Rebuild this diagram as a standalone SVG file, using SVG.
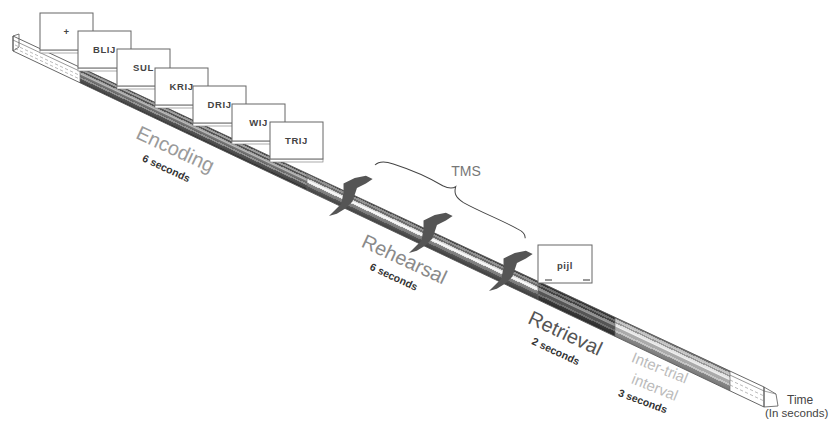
<svg xmlns="http://www.w3.org/2000/svg" width="833" height="423" viewBox="0 0 833 423">
<style>
.card{fill:#fff;stroke:#666;stroke-width:1}
.base{fill:#fff;stroke:#888;stroke-width:0.7}
.ct{font-family:"Liberation Sans",Arial,sans-serif;font-size:9.5px;font-weight:bold;fill:#444;text-anchor:middle;letter-spacing:0.6px}
.big{font-family:"Liberation Sans",Arial,sans-serif;font-size:20px;text-anchor:middle}
.sec{font-family:"Liberation Sans",Arial,sans-serif;font-size:10.5px;font-weight:bold;fill:#333;text-anchor:middle}
.iti{font-family:"Liberation Sans",Arial,sans-serif;font-size:15px;fill:#bbb;text-anchor:middle}
.lbl{font-family:"Liberation Sans",Arial,sans-serif;fill:#444}
.edge{fill:none;stroke:#555;stroke-width:0.8}
.thin{fill:none;stroke:#666;stroke-width:0.6}
.dash{fill:none;stroke:#999;stroke-width:0.6;stroke-dasharray:3 2}
.flag{fill:#555}
</style>
<defs>
<linearGradient id="gEnc" x1="0" y1="0" x2="0" y2="1">
<stop offset="0" stop-color="#444"/><stop offset=".07" stop-color="#444"/>
<stop offset=".07" stop-color="#888"/><stop offset=".18" stop-color="#aaa"/>
<stop offset=".22" stop-color="#555"/><stop offset=".3" stop-color="#555"/>
<stop offset=".3" stop-color="#999"/><stop offset=".42" stop-color="#bbb"/>
<stop offset=".48" stop-color="#777"/><stop offset=".6" stop-color="#666"/>
<stop offset=".6" stop-color="#999"/><stop offset=".7" stop-color="#888"/>
<stop offset=".7" stop-color="#555"/><stop offset=".9" stop-color="#444"/>
<stop offset=".9" stop-color="#333"/><stop offset="1" stop-color="#333"/>
</linearGradient>
<linearGradient id="gReh" x1="0" y1="0" x2="0" y2="1">
<stop offset="0" stop-color="#444"/><stop offset=".08" stop-color="#444"/>
<stop offset=".08" stop-color="#888"/><stop offset=".2" stop-color="#999"/>
<stop offset=".2" stop-color="#666"/><stop offset=".3" stop-color="#777"/>
<stop offset=".3" stop-color="#ccc"/><stop offset=".43" stop-color="#fff"/>
<stop offset=".53" stop-color="#ddd"/><stop offset=".53" stop-color="#888"/>
<stop offset=".72" stop-color="#777"/><stop offset=".72" stop-color="#555"/>
<stop offset=".92" stop-color="#444"/><stop offset="1" stop-color="#333"/>
</linearGradient>
<linearGradient id="gRet" x1="0" y1="0" x2="0" y2="1">
<stop offset="0" stop-color="#333"/><stop offset=".1" stop-color="#333"/>
<stop offset=".1" stop-color="#666"/><stop offset=".22" stop-color="#777"/>
<stop offset=".22" stop-color="#444"/><stop offset=".32" stop-color="#444"/>
<stop offset=".32" stop-color="#888"/><stop offset=".45" stop-color="#999"/>
<stop offset=".5" stop-color="#555"/><stop offset=".65" stop-color="#555"/>
<stop offset=".65" stop-color="#777"/><stop offset=".75" stop-color="#666"/>
<stop offset=".75" stop-color="#3a3a3a"/><stop offset="1" stop-color="#2a2a2a"/>
</linearGradient>
<linearGradient id="gIti" x1="0" y1="0" x2="0" y2="1">
<stop offset="0" stop-color="#777"/><stop offset=".08" stop-color="#777"/>
<stop offset=".08" stop-color="#bbb"/><stop offset=".22" stop-color="#ccc"/>
<stop offset=".22" stop-color="#999"/><stop offset=".3" stop-color="#999"/>
<stop offset=".3" stop-color="#ddd"/><stop offset=".45" stop-color="#eee"/>
<stop offset=".5" stop-color="#aaa"/><stop offset=".65" stop-color="#aaa"/>
<stop offset=".65" stop-color="#ccc"/><stop offset=".75" stop-color="#bbb"/>
<stop offset=".75" stop-color="#888"/><stop offset="1" stop-color="#777"/>
</linearGradient>
<path id="flagShape" d="M -4,-12 L 6,-17 L 16,-19 L 22,-16 L 16,-12 L 8,-8 L 4,4 L -2,10 L -10,15 L -17,17 L -12,12 L -6,6 L -4,-4 Z"/>
</defs>
<rect width="833" height="423" fill="#fff"/>

<g id="timeline">
<g transform="matrix(1,0.47,0,1,13,40)">
<polygon points="0,-4 67,-4.18 67,11.27 0,11" fill="#fff"/>
<polygon points="67,-4.18 294,-4.78 294,12.17 67,11.27" fill="url(#gEnc)"/>
<polygon points="294,-4.78 525,-5.4 525,13.1 294,12.17" fill="url(#gReh)"/>
<polygon points="525,-5.4 602,-5.6 602,13.4 525,13.1" fill="url(#gRet)"/>
<polygon points="602,-5.6 717,-5.91 717,13.86 602,13.4" fill="url(#gIti)"/>
<polygon points="717,-5.91 751,-6 751,14 717,13.86" fill="#fff"/>
<line class="thin" x1="0" y1="0" x2="67" y2="-0.2"/>
<line class="thin" x1="717" y1="-1.9" x2="751" y2="-2"/>
<line class="dash" x1="2" y1="4" x2="67" y2="4"/>
<line class="dash" x1="2" y1="7.5" x2="67" y2="7.7"/>
<line class="dash" x1="717" y1="3" x2="751" y2="3"/>
<line class="dash" x1="717" y1="8" x2="751" y2="8"/>
<line class="thin" x1="67" y1="-4.18" x2="67" y2="11.27"/>
<line class="thin" x1="294" y1="-4.78" x2="294" y2="12.17"/>
<line class="thin" x1="525" y1="-5.4" x2="525" y2="13.1"/>
<line class="thin" x1="602" y1="-5.6" x2="602" y2="13.4"/>
<line class="thin" x1="717" y1="-5.91" x2="717" y2="13.86"/>
<polygon class="edge" points="0,-4 751,-6 751,14 0,11"/>
</g>
<polygon class="edge" points="13,36 19,34 19,47 13,51" fill="#fff"/>
<polygon class="edge" points="764,387 776,394 778,406 764,407" fill="#fff"/>
<line class="thin" x1="764" y1="391" x2="776" y2="394"/>
</g>

<g id="card-0"><rect class="base" x="40" y="50" width="53" height="3"/><rect class="card" x="40" y="13" width="53" height="37"/><text class="ct" x="66.5" y="35">+</text></g>
<g id="card-1"><rect class="base" x="78" y="68" width="53" height="3"/><rect class="card" x="78" y="31" width="53" height="37"/><text class="ct" x="104.5" y="53">BLIJ</text></g>
<g id="card-2"><rect class="base" x="117" y="86" width="53" height="3"/><rect class="card" x="117" y="49" width="53" height="37"/><text class="ct" x="143.5" y="71">SUL</text></g>
<g id="card-3"><rect class="base" x="155" y="105" width="53" height="3"/><rect class="card" x="155" y="68" width="53" height="37"/><text class="ct" x="181.5" y="90">KRIJ</text></g>
<g id="card-4"><rect class="base" x="193" y="123" width="53" height="3"/><rect class="card" x="193" y="86" width="53" height="37"/><text class="ct" x="219.5" y="108">DRIJ</text></g>
<g id="card-5"><rect class="base" x="232" y="141" width="53" height="3"/><rect class="card" x="232" y="104" width="53" height="37"/><text class="ct" x="258.5" y="126">WIJ</text></g>
<g id="card-6"><rect class="base" x="270" y="159" width="53" height="3"/><rect class="card" x="270" y="122" width="53" height="37"/><text class="ct" x="296.5" y="144">TRIJ</text></g>

<g id="probe-card">
<rect class="card" x="538" y="245" width="54" height="38"/>
<text class="ct" x="565" y="269">pijl</text>
<line x1="545" y1="280" x2="552" y2="280" stroke="#777" stroke-width="1.5"/>
<line x1="583" y1="280" x2="590" y2="280" stroke="#777" stroke-width="1.5"/>
</g>

<g id="tms-pulses">
<use href="#flagShape" class="flag" transform="translate(348,197) scale(1.12)"/>
<use href="#flagShape" class="flag" transform="translate(428,234) scale(1.12)"/>
<use href="#flagShape" class="flag" transform="translate(508,272) scale(1.12)"/>
</g>

<g id="tms-brace">
<path d="M 0,0 C 2,-6 8,-8 16,-9 C 30,-11 50,-13 70,-11 C 76,-11 80,-12 82,-16 C 83,-10 86,-6 96,-5 C 115,-4 140,-6 156,-5 C 162,-5 166,-3 167,0" transform="translate(375,165) rotate(26)" fill="none" stroke="#444" stroke-width="1"/>
<text class="lbl" x="466" y="176" font-size="14" text-anchor="middle" style="fill:#777">TMS</text>
</g>

<g id="labels">
<text class="big" fill="#9a9a9a" transform="translate(172.5,155.4) rotate(25)">Encoding</text>
<text class="sec" transform="translate(164.8,171.6) rotate(25)">6 seconds</text>
<text class="big" fill="#8a8a8a" transform="translate(401.5,265.4) rotate(25)">Rehearsal</text>
<text class="sec" transform="translate(392.3,280.1) rotate(25)">6 seconds</text>
<text class="big" fill="#555" transform="translate(562.5,339.4) rotate(25)">Retrieval</text>
<text class="sec" transform="translate(554.3,354.6) rotate(25)">2 seconds</text>
<text class="iti" transform="translate(658,372.6) rotate(22)">Inter-trial</text>
<text class="iti" transform="translate(653,392) rotate(22)">interval</text>
<text class="sec" transform="translate(641.5,404.6) rotate(20)">3 seconds</text>
<text class="lbl" x="787" y="404" font-size="12">Time</text>
<text class="lbl" x="765" y="417" font-size="11.5">(In seconds)</text>
</g>
</svg>
